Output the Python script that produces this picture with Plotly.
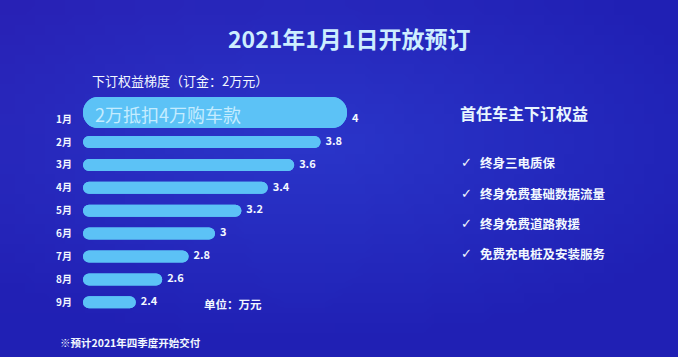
import base64, struct, zlib
import plotly.graph_objects as go

months = ["1月", "2月", "3月", "4月", "5月", "6月", "7月", "8月", "9月"]
values = [4, 3.8, 3.6, 3.4, 3.2, 3, 2.8, 2.6, 2.4]
value_labels = ["4", "3.8", "3.6", "3.4", "3.2", "3", "2.8", "2.6", "2.4"]
deposit = 2
first_bar_text = "2万抵扣4万购车款"
benefits = ["终身三电质保", "终身免费基础数据流量", "终身免费道路救援", "免费充电桩及安装服务"]

title = "2021年1月1日开放预订"
subtitle = "下订权益梯度（订金：2万元）"
unit_note = "单位：万元"
footnote = "※预计2021年四季度开始交付"
panel_title = "首任车主下订权益"

FONT = "Noto Sans CJK SC"
BAR = "#5cc2f6"
WHITE = "#f2f8ff"

W, H = 678, 357
L, R_px, T, B = 83, 420, 78, 41
PW, PH = R_px - L, H - T - B


def gradient_png(w=68, h=36):
    rows = b""
    for j in range(h):
        row = b"\x00"
        for i in range(w):
            dx = (i / (w - 1)) - 0.45
            dy = (j / (h - 1)) - 0.4
            d = min(1.0, (dx * dx * 1.2 + dy * dy * 1.6) ** 0.5 / 0.75)
            r = int(40 - 8 * d + 8 * (1 - j / h) * (1 - i / w))
            g = int(54 - 22 * d)
            b = int(202 - 22 * d)
            row += bytes([max(0, r), max(0, g), max(0, b)])
        rows += row
    def chunk(t, data):
        c = struct.pack(">I", len(data)) + t + data
        return c + struct.pack(">I", zlib.crc32(t + data) & 0xFFFFFFFF)
    png = b"\x89PNG\r\n\x1a\n" + chunk(b"IHDR", struct.pack(">IIBBBBB", w, h, 8, 2, 0, 0, 0))
    png += chunk(b"IDAT", zlib.compress(rows, 9)) + chunk(b"IEND", b"")
    return "data:image/png;base64," + base64.b64encode(png).decode()


widths = [1.36] + [0.525] * (len(months) - 1)
offsets = [-0.97] + [-0.2625] * (len(months) - 1)
lengths = [v - deposit for v in values]

fig = go.Figure()
fig.add_trace(go.Bar(
    y=months, x=lengths, base=[deposit] * len(months), orientation="h",
    width=widths, offset=offsets, marker=dict(color=BAR, cornerradius="50%", line=dict(width=0)),
    hoverinfo="skip", showlegend=False))
fig.add_trace(go.Bar(
    y=months, x=[-l for l in lengths], base=values, orientation="h",
    width=widths, offset=offsets, marker=dict(color=BAR, cornerradius="50%", line=dict(width=0)),
    hoverinfo="skip", showlegend=False))
fig.add_trace(go.Scatter(
    y=months, x=values, mode="text", text=["  <b>" + t + "</b>" for t in value_labels],
    textposition="middle right", textfont=dict(family=FONT, size=11, color=WHITE),
    hoverinfo="skip", showlegend=False, cliponaxis=False))


def px_note(text, x, y, size, color=WHITE, anchor="left", family=FONT):
    return dict(text=text, x=(x - L) / PW, y=(H - B - y) / PH, xref="paper", yref="paper",
                xanchor=anchor, yanchor="middle", showarrow=False,
                font=dict(family=family, size=size, color=color))


ann = [
    px_note("<b>" + title + "</b>", 349, 38, 23, "#cdeeff", "center"),
    px_note(subtitle, 90, 80, 13),
    dict(text=first_bar_text, x=deposit, y=months[0], xref="x", yref="y", xanchor="left",
         yanchor="middle", showarrow=False, xshift=10, yshift=5,
         font=dict(family=FONT, size=18, color="#c4ecff")),
    px_note("<b>" + unit_note + "</b>", 202, 304, 11.5),
    px_note("<b>" + footnote + "</b>", 58, 342, 10.5),
    px_note("<b>" + panel_title + "</b>", 458, 113, 16, "#e8f6ff"),
]
for k, item in enumerate(benefits):
    yy = [162, 193, 223, 253][k]
    ann.append(px_note("<b>✓</b>", 459, yy, 13, family="DejaVu Sans"))
    ann.append(px_note("<b>" + item + "</b>", 478, yy, 12.5))

fig.update_layout(
    width=W, height=H,
    margin=dict(l=L, r=W - R_px, t=T, b=B, pad=0),
    barmode="overlay",
    paper_bgcolor="#2434bd", plot_bgcolor="rgba(0,0,0,0)",
    xaxis=dict(range=[deposit, deposit + PW / 132], visible=False, fixedrange=True),
    yaxis=dict(range=[8.6, -1.8], showgrid=False, zeroline=False, showline=False, ticks="",
               tickfont=dict(family=FONT, size=10, color=WHITE, weight="bold"), ticklabelstandoff=10,
               categoryorder="array", categoryarray=months),
    annotations=ann,
    images=[dict(source=gradient_png(), xref="paper", yref="paper", x=-L / PW, y=1 + T / PH,
                 sizex=W / PW, sizey=H / PH, sizing="stretch", xanchor="left",
                 yanchor="top", layer="below")],
)
fig.write_html("out.html")
